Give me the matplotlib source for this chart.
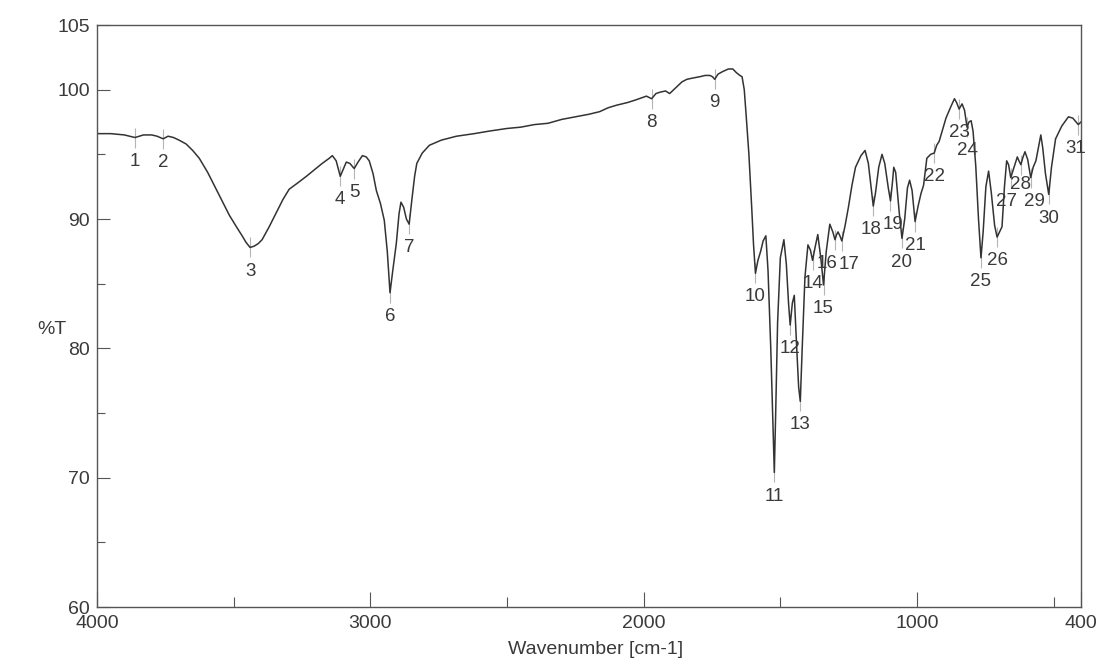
import numpy as np
import matplotlib
matplotlib.use("Agg")
import matplotlib.pyplot as plt
from matplotlib.ticker import FixedLocator

# ---------------- data ----------------
wavenumber = [
    4000, 3950, 3900, 3861, 3830, 3800, 3780, 3758, 3740, 3720, 3700, 3674, 3650,
    3626, 3595, 3564, 3540, 3516, 3490, 3469, 3455, 3440, 3425, 3410, 3396, 3370,
    3344, 3320, 3297, 3265, 3234, 3205, 3176, 3150, 3139, 3125, 3110, 3100, 3088,
    3075, 3059, 3045, 3029, 3015, 3004, 2990, 2978, 2963, 2949, 2938, 2928, 2918,
    2905, 2895, 2888, 2878, 2868, 2858, 2848, 2838, 2830, 2810, 2784, 2740, 2685,
    2620, 2564, 2500, 2450, 2400, 2350, 2300, 2250, 2200, 2161, 2130, 2099, 2060,
    2030, 2004, 1990, 1971, 1955, 1941, 1920, 1905, 1880, 1860, 1842, 1820, 1795,
    1775, 1758, 1748, 1740, 1728, 1711, 1690, 1674, 1660, 1648, 1640, 1632, 1625,
    1615, 1605, 1598, 1591, 1582, 1572, 1563, 1553, 1545, 1535, 1527, 1522, 1517,
    1510, 1500, 1487, 1478, 1470, 1464, 1456, 1449, 1440, 1433, 1427, 1420, 1410,
    1399, 1390, 1382, 1372, 1363, 1352, 1342, 1332, 1319, 1308, 1300, 1294, 1289,
    1282, 1275, 1263, 1251, 1238, 1225, 1205, 1190, 1178, 1168, 1160, 1152, 1140,
    1128, 1118, 1105, 1097, 1090, 1085, 1078, 1065, 1055, 1045, 1035, 1027, 1018,
    1007, 996, 985, 976, 964, 950, 937, 928, 919, 905, 894, 878, 863, 855, 846,
    835, 826, 817, 810, 802, 795, 785, 775, 766, 758, 748, 738, 728, 716, 707,
    698, 689, 680, 672, 665, 657, 645, 633, 627, 620, 612, 605, 595, 584, 575,
    565, 556, 547, 540, 530, 518, 508, 493, 470, 446, 430, 418, 410, 405, 400,
]
transmittance = [
    96.6, 96.6, 96.5, 96.3, 96.5, 96.5, 96.4, 96.2, 96.4, 96.3, 96.1, 95.8, 95.3,
    94.7, 93.6, 92.3, 91.3, 90.3, 89.4, 88.7, 88.2, 87.8, 87.9, 88.1, 88.4, 89.4,
    90.5, 91.5, 92.3, 92.8, 93.3, 93.8, 94.3, 94.7, 94.9, 94.5, 93.3, 93.8, 94.4,
    94.3, 93.9, 94.4, 94.9, 94.8, 94.5, 93.5, 92.2, 91.2, 89.9, 87.5, 84.3, 86.0,
    88.1, 90.4, 91.3, 90.9, 90.0, 89.6, 91.5, 93.3, 94.3, 95.1, 95.7, 96.1, 96.4,
    96.6, 96.8, 97.0, 97.1, 97.3, 97.4, 97.7, 97.9, 98.1, 98.3, 98.6, 98.8, 99.0,
    99.2, 99.4, 99.5, 99.3, 99.7, 99.8, 99.9, 99.7, 100.2, 100.6, 100.8, 100.9, 101.0,
    101.1, 101.1, 101.0, 100.8, 101.2, 101.4, 101.6, 101.6, 101.3, 101.1, 101.0, 100.0, 98.0,
    95.0, 91.0, 88.0, 85.8, 86.8, 87.5, 88.3, 88.7, 86.0, 80.0, 74.0, 70.4, 75.0,
    82.0, 87.0, 88.4, 86.5, 83.5, 81.8, 83.5, 84.1, 80.0, 77.0, 75.9, 80.0, 85.5,
    88.0, 87.6, 86.8, 87.9, 88.8, 87.0, 84.9, 87.5, 89.6, 89.0, 88.4, 88.8, 89.0,
    88.7, 88.3, 89.5, 90.9, 92.6, 94.0, 94.9, 95.3, 94.3, 92.5, 91.0, 92.0, 94.0,
    95.0, 94.3, 92.4, 91.4, 92.8, 94.0, 93.6, 90.5, 88.5, 90.0, 92.4, 93.0, 92.2,
    89.8, 91.0, 92.0, 92.6, 94.7, 95.0, 95.1, 95.7, 96.0, 97.0, 97.8, 98.6, 99.3, 99.0, 98.5,
    98.9, 98.4, 97.1, 97.5, 97.6, 96.8, 94.1, 90.0, 87.0, 89.0, 92.5, 93.7, 92.0, 89.5, 88.6,
    89.0, 89.4, 92.5, 94.5, 94.2, 93.2, 94.0, 94.8, 94.5, 94.2, 94.8, 95.2, 94.6, 93.2, 94.0,
    94.5, 95.5, 96.5, 95.5, 93.5, 91.9, 94.0, 96.2, 97.2, 97.9, 97.8, 97.5, 97.3, 97.4, 97.5,
]

peak_numbers = list(range(1, 32))
peak_wavenumbers = [3861, 3758, 3440, 3110, 3059, 2928, 2858, 1971, 1740, 1591,
                    1522, 1464, 1427, 1382, 1342, 1300, 1275, 1160, 1097, 1055,
                    1007, 937, 846, 817, 766, 707, 657, 620, 584, 518, 410]

x_tick_labels = [4000, 3000, 2000, 1000, 400]
x_minor = [3500, 2500, 1500, 500]
y_tick_labels = [60, 70, 80, 90, 100, 105]
y_minor = [65, 75, 85, 95]

# ---------------- figure ----------------
W, H = 1111, 663
fig = plt.figure(figsize=(W / 100, H / 100), dpi=100)
plt.rcParams['font.family'] = ['Liberation Sans', 'DejaVu Sans']

left_px, right_px, top_px, bottom_px = 97, 1081, 25, 607
ax = fig.add_axes([left_px / W, 1 - bottom_px / H,
                   (right_px - left_px) / W, (bottom_px - top_px) / H])

line_col = '#333333'
text_col = '#3a3a3a'

ax.plot(wavenumber, transmittance, color=line_col, lw=1.1)

ax.set_xlim(4000, 400)
ax.set_ylim(60, 105)

# label nudges (points) for crowded peak numbers
label_off = {16: (-5.5, -17), 17: (5.5, -17), 27: (-3, -17), 28: (0, -14),
             29: (3, -17), 31: (-1.5, -17), 18: (-1.5, -17), 19: (1.5, -17)}

wn_arr = np.array(wavenumber[::-1], dtype=float)
t_arr = np.array(transmittance[::-1], dtype=float)
units_per_px = 45.0 / (bottom_px - top_px)
half = 10 * units_per_px
for n, pw in zip(peak_numbers, peak_wavenumbers):
    pt = float(np.interp(pw, wn_arr, t_arr))
    ax.vlines(pw, pt - half, pt + half, color='#b5b5b5', lw=0.8, zorder=1)
    ax.annotate(str(n), xy=(pw, pt), xytext=label_off.get(n, (0, -17)),
                textcoords='offset points', ha='center', va='center',
                fontsize=13.5, color=text_col, zorder=3)

# ticks
ax.xaxis.set_major_locator(FixedLocator(x_tick_labels))
ax.xaxis.set_minor_locator(FixedLocator(x_minor))
ax.yaxis.set_major_locator(FixedLocator(y_tick_labels))
ax.yaxis.set_minor_locator(FixedLocator(y_minor))
ax.set_xticklabels([str(v) for v in x_tick_labels])
ax.set_yticklabels([str(v) for v in y_tick_labels])
ax.tick_params(axis='both', which='both', direction='in', colors='#555555',
               labelcolor=text_col, labelsize=14)
ax.tick_params(axis='x', which='major', length=11, width=0.8, pad=6)
ax.tick_params(axis='x', which='minor', length=7, width=0.8)
ax.tick_params(axis='y', which='major', length=9, width=0.8, pad=5)
ax.tick_params(axis='y', which='minor', length=6, width=0.8)

for s in ax.spines.values():
    s.set_color('#555555')
    s.set_linewidth(1.0)

fig.text(596 / W, 1 - 650 / H, 'Wavenumber [cm-1]', ha='center', va='center',
         fontsize=14, color=text_col)
fig.text(52 / W, 1 - 329 / H, '%T', ha='center', va='center',
         fontsize=14, color=text_col)

fig.savefig('out.png', dpi=100, facecolor='white')
